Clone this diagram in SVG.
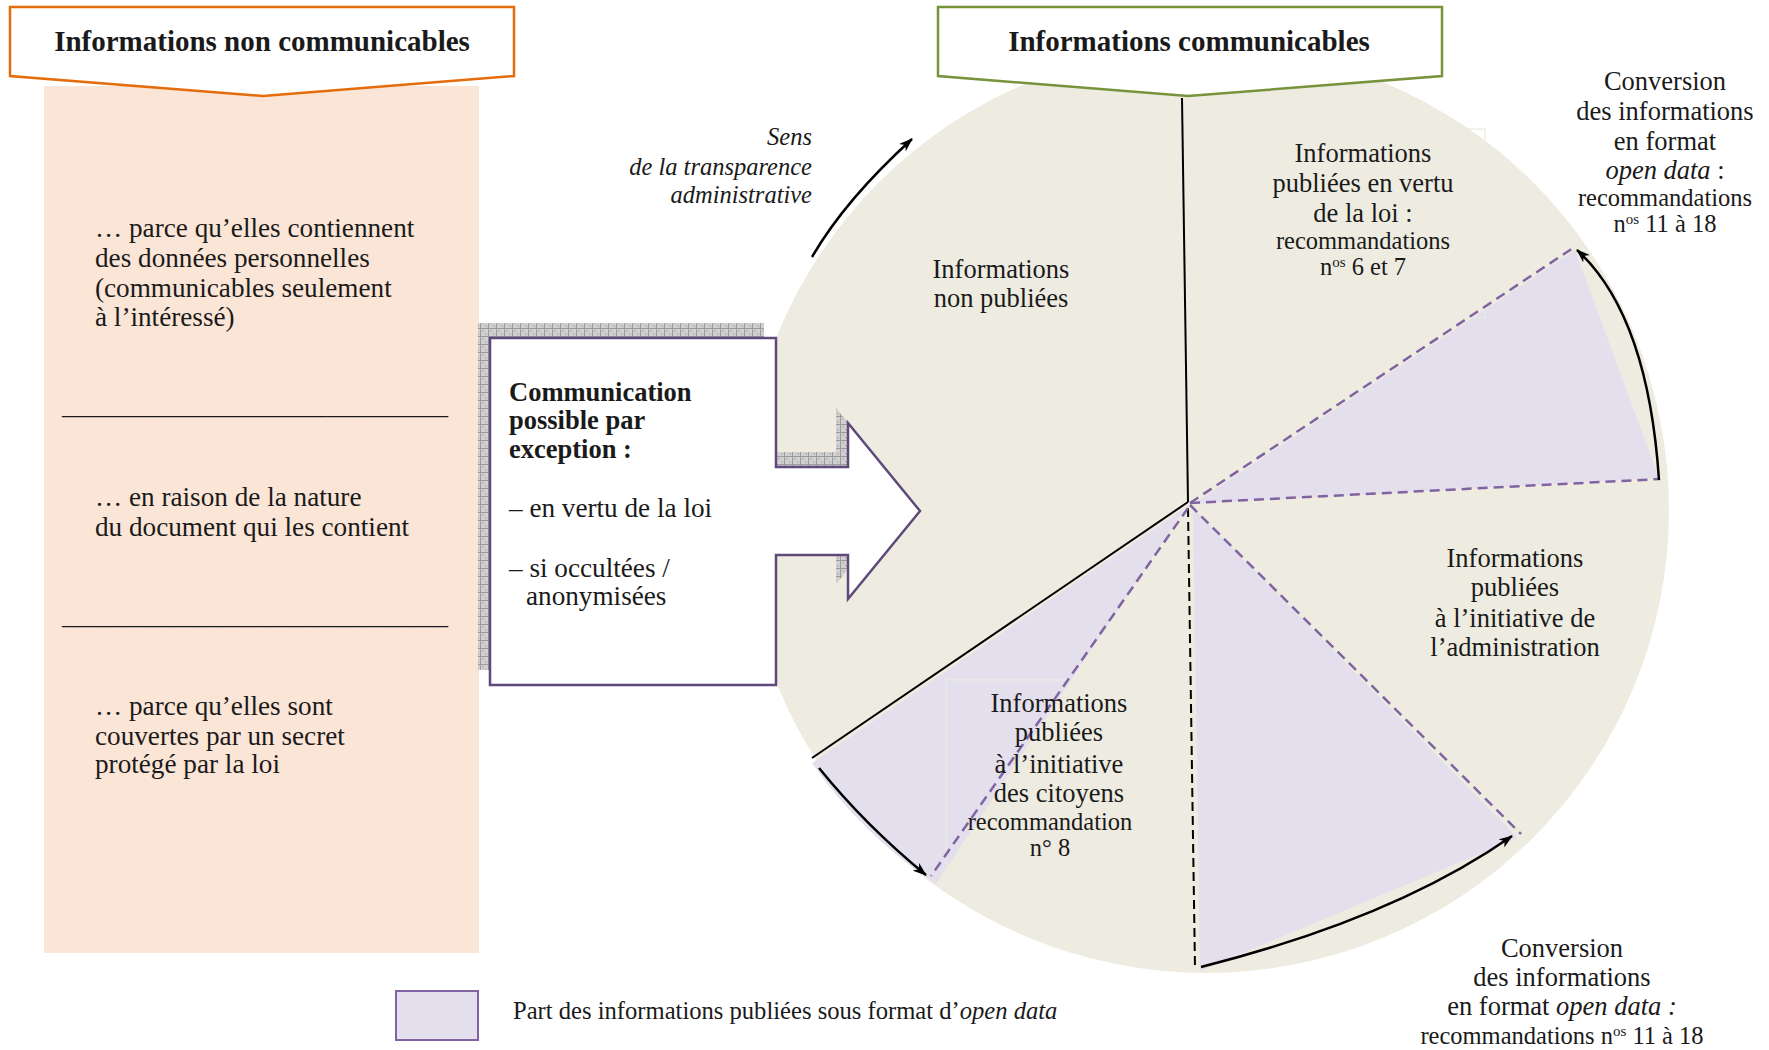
<svg xmlns="http://www.w3.org/2000/svg" width="1769" height="1050" viewBox="0 0 1769 1050">
<defs>
<style>
.t{font-family:"Liberation Serif","Times New Roman",serif;fill:#1a1a1a;font-size:26.5px}
.p{font-size:27.2px}
.m{text-anchor:middle}
.e{text-anchor:end}
.b{font-weight:bold}
.i{font-style:italic}
.s{font-size:24.5px}
.h{font-size:29px;font-weight:bold}
.sens{font-size:24.5px;font-style:italic;text-anchor:end}
.lg{font-size:24.6px}
.sup{font-size:15px}
.pd{stroke:#8064A2;stroke-width:2.5;stroke-dasharray:10 6;fill:none}
.arr{stroke:#000;stroke-width:2.5;fill:none;marker-end:url(#ah)}
.tb{fill:none;stroke:#E8EDE1;stroke-width:1.2}
.sec{fill:#E4DFEC}
</style>
<pattern id="grid" width="8" height="8" patternUnits="userSpaceOnUse">
<rect width="8" height="8" fill="#d0d0d0"/>
<path d="M0 0.5H8M0.5 0V8" stroke="#9c9c9c" stroke-width="1"/>
<rect x="2" y="2" width="2" height="2" fill="#bdbdbd"/>
<rect x="5" y="5" width="2" height="2" fill="#bdbdbd"/>
</pattern>
<marker id="ah" viewBox="0 0 14 10" refX="13" refY="5" markerWidth="14" markerHeight="10" markerUnits="userSpaceOnUse" orient="auto">
<path d="M0 0 L14 5 L0 10 L4 5 Z" fill="#000"/>
</marker>
</defs>
<rect width="1769" height="1050" fill="#fff"/>

<g id="panel-non-communicables">
<rect x="44" y="86" width="435" height="867" fill="#FBE5D6"/>
<text class="t p" x="95" y="237">… parce qu’elles contiennent</text>
<text class="t p" x="95" y="267">des données personnelles</text>
<text class="t p" x="95" y="297">(communicables seulement</text>
<text class="t p" x="95" y="326">à l’intéressé)</text>
<text class="t" x="62" y="414" textLength="386" lengthAdjust="spacingAndGlyphs">________________________________</text>
<text class="t p" x="95" y="506">… en raison de la nature</text>
<text class="t p" x="95" y="536">du document qui les contient</text>
<text class="t" x="62" y="624" textLength="386" lengthAdjust="spacingAndGlyphs">________________________________</text>
<text class="t p" x="95" y="715">… parce qu’elles sont</text>
<text class="t p" x="95" y="745">couvertes par un secret</text>
<text class="t p" x="95" y="773">protégé par la loi</text>
</g>

<g id="header-non-communicables">
<path d="M10 7 H514 V76 L263 96 L10 76 Z" fill="#fff" stroke="#E46C0A" stroke-width="2.5"/>
<text class="t h m" x="262" y="51">Informations non communicables</text>
</g>

<g id="pie">
<circle cx="1206" cy="510" r="463" fill="#EEECE1"/>
<path class="sec" d="M1193 504 L1575 250 L1659 478 Z"/>
<path class="sec" d="M1193 508 L1200 971 L1518 838 Z"/>
<path class="sec" d="M1186 507 L812 763 A463 463 0 0 0 936 884 Z"/>
<rect class="tb" x="891" y="245" width="221" height="110"/>
<rect class="tb" x="1240" y="129" width="245" height="189"/>
<rect class="tb" x="1405" y="534" width="220" height="162"/>
<rect class="tb" x="946" y="680" width="207" height="198"/>
</g>

<g id="connectors">
<path d="M1182 98 L1188 502" stroke="#000" stroke-width="2" fill="none"/>
<path d="M1188 502 L812 758" stroke="#000" stroke-width="2" fill="none"/>
<path d="M1188 508 L1195 968" stroke="#000" stroke-width="2" stroke-dasharray="9 5" fill="none"/>
<path class="pd" d="M1190 503 L1576 246"/>
<path class="pd" d="M1190 503 L1660 479"/>
<path class="pd" d="M1190 505 L1521 834"/>
<path class="pd" d="M1188 508 L931 876"/>
<path class="arr" d="M812 257 Q845 200 912 139"/>
<path class="arr" d="M1659 480 Q1648 315 1577 250"/>
<path class="arr" d="M1201 967 Q1395 918 1512 836"/>
<path class="arr" d="M819 768 Q866 826 926 875"/>
</g>

<g id="header-communicables">
<path d="M938 7 H1442 V76 L1188 96 L938 76 Z" fill="#fff" stroke="#77933C" stroke-width="2.5"/>
<text class="t h m" x="1189" y="51">Informations communicables</text>
</g>

<g id="callout-exception">
<path d="M478 323 H764 V452 H836 V408 L908 496 L836 584 V540 H764 V670 H478 Z" fill="url(#grid)"/>
<path d="M490 338 H776 V467 H848 V423 L920 511 L848 599 V555 H776 V685 H490 Z" fill="#fff" stroke="#5F497A" stroke-width="2.5"/>
<text class="t b" x="509" y="401">Communication</text>
<text class="t b" x="509" y="429">possible par</text>
<text class="t b" x="509" y="458">exception :</text>
<text class="t p" x="509" y="517">– en vertu de la loi</text>
<text class="t p" x="509" y="577">– si occultées /</text>
<text class="t p" x="526" y="605">anonymisées</text>
</g>

<g id="label-sens">
<text class="t sens" x="812" y="145">Sens</text>
<text class="t sens" x="812" y="175">de la transparence</text>
<text class="t sens" x="812" y="203">administrative</text>
</g>

<g id="node-non-publiees">
<text class="t m" x="1001" y="278">Informations</text>
<text class="t m" x="1001" y="307">non publiées</text>
</g>

<g id="node-vertu-loi">
<text class="t m" x="1363" y="162">Informations</text>
<text class="t m" x="1363" y="192">publiées en vertu</text>
<text class="t m" x="1363" y="222">de la loi :</text>
<text class="t m s" x="1363" y="249">recommandations</text>
<text class="t m s" x="1363" y="275">n<tspan class="sup" dy="-8">os</tspan><tspan dy="8"> 6 et 7</tspan></text>
</g>

<g id="node-conversion-haut">
<text class="t m" x="1665" y="90">Conversion</text>
<text class="t m" x="1665" y="120">des informations</text>
<text class="t m" x="1665" y="150">en format</text>
<text class="t m" x="1665" y="179"><tspan class="i">open data</tspan> :</text>
<text class="t m s" x="1665" y="206">recommandations</text>
<text class="t m s" x="1665" y="232">n<tspan class="sup" dy="-8">os</tspan><tspan dy="8"> 11 à 18</tspan></text>
</g>

<g id="node-administration">
<text class="t m" x="1515" y="567">Informations</text>
<text class="t m" x="1515" y="596">publiées</text>
<text class="t m" x="1515" y="627">à l’initiative de</text>
<text class="t m" x="1515" y="656">l’administration</text>
</g>

<g id="node-citoyens">
<text class="t m" x="1059" y="712">Informations</text>
<text class="t m" x="1059" y="741">publiées</text>
<text class="t m" x="1059" y="773">à l’initiative</text>
<text class="t m" x="1059" y="802">des citoyens</text>
<text class="t m s" x="1050" y="830">recommandation</text>
<text class="t m s" x="1050" y="856">n° 8</text>
</g>

<g id="node-conversion-bas">
<text class="t m" x="1562" y="957">Conversion</text>
<text class="t m" x="1562" y="986">des informations</text>
<text class="t m" x="1562" y="1015">en format <tspan class="i">open data :</tspan></text>
<text class="t m s" x="1562" y="1044">recommandations n<tspan class="sup" dy="-8">os</tspan><tspan dy="8"> 11 à 18</tspan></text>
</g>

<g id="legend">
<rect x="396" y="991" width="82" height="49" fill="#E4DFEC" stroke="#8064A2" stroke-width="2"/>
<text class="t lg" x="513" y="1019">Part des informations publiées sous format d’<tspan class="i">open data</tspan></text>
</g>
</svg>
